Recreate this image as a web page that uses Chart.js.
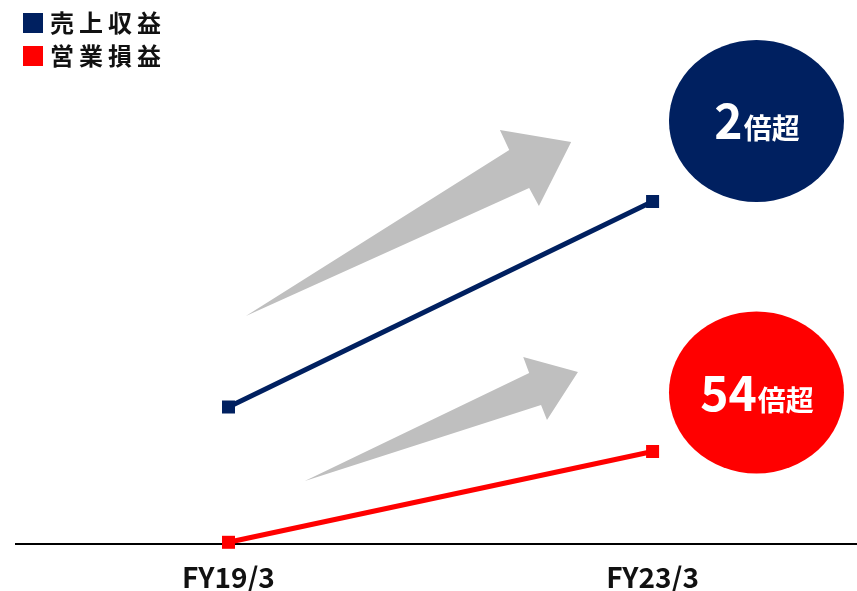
<!DOCTYPE html>
<html>
<head>
<meta charset="utf-8">
<script src="https://cdn.jsdelivr.net/npm/chart.js@4.4.1/dist/chart.umd.min.js"></script>
<style>
  html, body { margin: 0; padding: 0; background: #fff; }
  #wrap { width: 857px; height: 591px; position: relative; }
</style>
</head>
<body>
<div id="wrap"><canvas id="myChart"></canvas></div>
<script>
const categories = ['FY19/3', 'FY23/3'];
const revenue = [137, 342.5];
const operatingIncome = [1.7, 92.5];
const seriesNames = ['売上収益', '営業損益'];
const growthLabels = [['2', '倍超'], ['54', '倍超']];

const navy = '#002060';
const red = '#FF0000';
const grey = '#BFBFBF';
const FONT = "'Noto Sans CJK JP', 'Noto Sans', sans-serif";

// grey arrows, in axis units (x: category index, y: value)
const arrows = [
    [[0.041, 228], [0.662, 394], [0.640, 414], [0.808, 402], [0.732, 338], [0.709, 356]],
    [[0.180, 63], [0.709, 171], [0.695, 187], [0.824, 172], [0.751, 124], [0.737, 139]],
];
// badge centers in axis units
const badges = [
    { x: 1.245, y: 423, color: navy, text: growthLabels[0] },
    { x: 1.245, y: 151.5, color: red, text: growthLabels[1] },
];

const toPoints = (vals) => vals.map((v, i) => ({ x: i, y: v }));

const data = {
    datasets: [{
        label: seriesNames[0],
        data: toPoints(revenue),
        borderColor: navy,
        backgroundColor: navy,
        borderWidth: 5,
        pointStyle: 'rect',
        pointRadius: 9.2,
        pointBorderWidth: 0,
        pointHoverRadius: 9.2,
        clip: false,
    }, {
        label: seriesNames[1],
        data: toPoints(operatingIncome),
        borderColor: red,
        backgroundColor: red,
        borderWidth: 5,
        pointStyle: 'rect',
        pointRadius: 9.2,
        pointBorderWidth: 0,
        pointHoverRadius: 9.2,
        clip: false,
    }]
};

const decorations = {
    id: 'decorations',
    beforeDatasetsDraw(chart) {
        const { ctx, scales: { x, y } } = chart;
        ctx.save();
        ctx.fillStyle = grey;
        arrows.forEach(pts => {
            ctx.beginPath();
            pts.forEach((p, i) => {
                const px = x.getPixelForValue(p[0]);
                const py = y.getPixelForValue(p[1]);
                if (i === 0) ctx.moveTo(px, py); else ctx.lineTo(px, py);
            });
            ctx.closePath();
            ctx.fill();
        });
        ctx.restore();
    },
    afterDatasetsDraw(chart) {
        const { ctx, scales: { x, y } } = chart;
        ctx.save();
        badges.forEach(b => {
            const cx = x.getPixelForValue(b.x);
            const cy = y.getPixelForValue(b.y);
            ctx.fillStyle = b.color;
            ctx.beginPath();
            ctx.ellipse(cx, cy, 87.5, 81, 0, 0, Math.PI * 2);
            ctx.fill();

            const big = 'bold 48px ' + FONT;
            const small = 'bold 28px ' + FONT;
            ctx.font = big;
            const w1 = ctx.measureText(b.text[0]).width;
            ctx.font = small;
            const w2 = ctx.measureText(b.text[1]).width;
            const left = cx - (w1 + w2) / 2;
            const base = cy + 18;
            ctx.fillStyle = '#fff';
            ctx.textBaseline = 'alphabetic';
            ctx.textAlign = 'left';
            ctx.font = big;
            ctx.fillText(b.text[0], left, base);
            ctx.font = small;
            ctx.fillText(b.text[1], left + w1 + 1, base);
        });

        // legend top-left
        ctx.textBaseline = 'middle';
        ctx.textAlign = 'left';
        ctx.font = 'bold 24px ' + FONT;
        ctx.letterSpacing = '5px';
        chart.data.datasets.forEach((ds, i) => {
            const top = 13 + i * 33;
            ctx.fillStyle = ds.borderColor;
            ctx.fillRect(23, top, 20, 20);
            ctx.fillStyle = '#111';
            ctx.fillText(ds.label, 50, top + 10);
        });
        ctx.restore();
    }
};

const options = {
    responsive: true,
    maintainAspectRatio: false,
    animation: false,
    layout: {
        autoPadding: false,
        padding: { left: 16, right: 0, top: 0, bottom: 0 }
    },
    plugins: {
        legend: { display: false },
        tooltip: { enabled: false }
    },
    scales: {
        x: {
            type: 'linear',
            min: -0.501,
            max: 1.482,
            afterBuildTicks: (axis) => {
                axis.ticks = categories.map((c, i) => ({ value: i }));
            },
            afterFit: (axis) => {
                // keep the baseline where the reference has it
                axis.height = 47;
            },
            ticks: {
                callback: (value) => categories[value],
                color: '#111',
                padding: 19,
                maxRotation: 0,
                autoSkip: false,
                font: { family: FONT, size: 28, weight: 'bold', lineHeight: 1 }
            },
            grid: {
                display: false,
                drawTicks: false
            },
            border: {
                display: true,
                color: '#000',
                width: 2
            }
        },
        y: {
            display: false,
            min: 0,
            max: 544
        }
    }
};

const config = {
    type: 'line',
    data,
    options,
    plugins: [decorations]
};

const myChart = new Chart(
    document.getElementById('myChart'),
    config
);
</script>
</body>
</html>
